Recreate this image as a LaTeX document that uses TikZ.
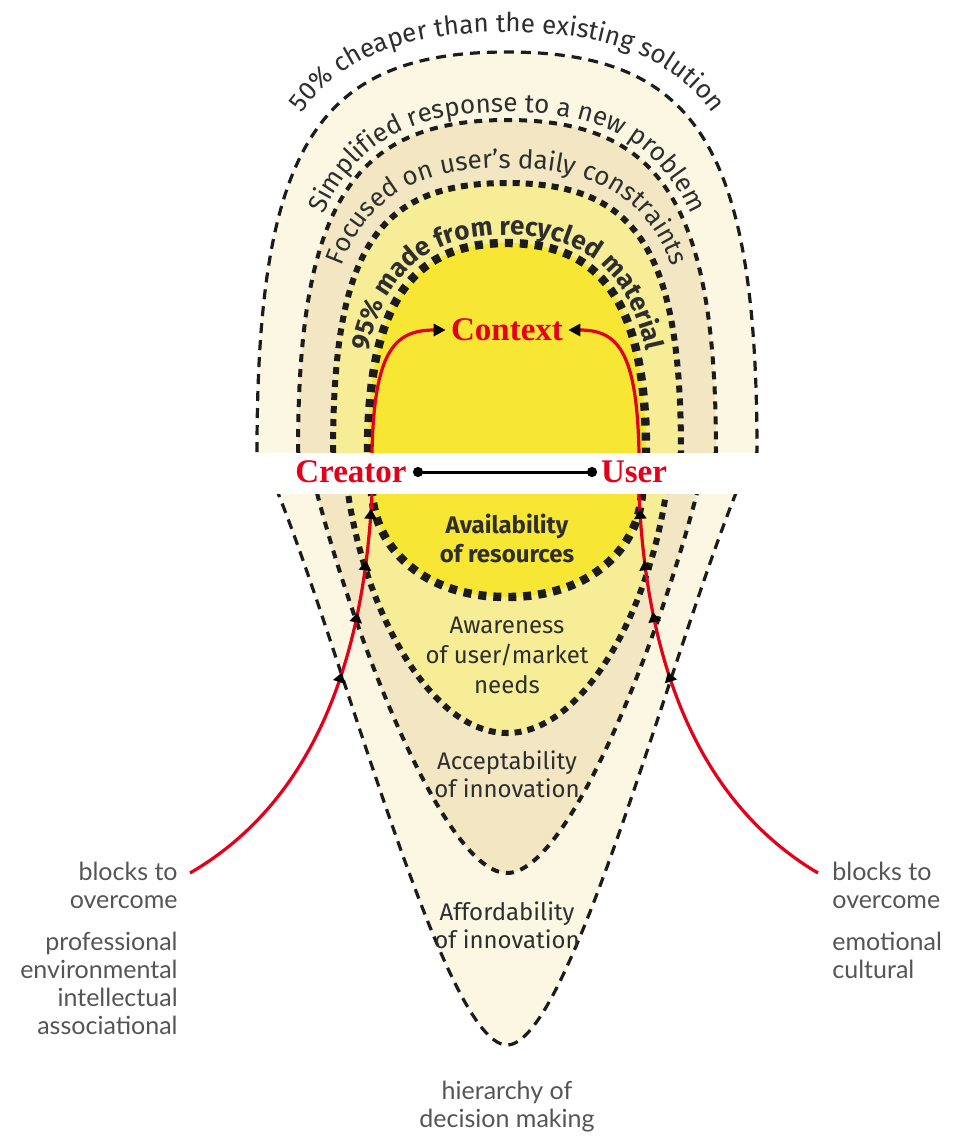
\documentclass[tikz,border=0pt]{standalone}
\usepackage{fontspec}
\usetikzlibrary{decorations.text,decorations.markings,arrows.meta}
\newfontfamily\firafont{Fira Sans}
\newfontfamily\latofont{Lato}
\newfontfamily\redfont{Liberation Serif}
\definecolor{regA}{HTML}{FBF7E2}
\definecolor{regB}{HTML}{F3E7C3}
\definecolor{regC}{HTML}{F6ED96}
\definecolor{regD}{HTML}{F7E633}
\definecolor{redc}{HTML}{E2001A}
\definecolor{txt}{HTML}{2E2E2E}
\definecolor{graytxt}{HTML}{555555}
\definecolor{dashc}{HTML}{1C1C1C}
\newcommand\arcfontA{\fontsize{13}{14}\selectfont\firafont}
\newcommand\arcfontB{\fontsize{13}{14}\selectfont\firafont}
\newcommand\arcfontC{\fontsize{13}{14}\selectfont\firafont\bfseries}
\tikzset{
  bandA/.style={fill=regA, draw=dashc, line width=1.6pt, dash pattern=on 5pt off 3.5pt},
  bandB/.style={fill=regB, draw=dashc, line width=2pt, dash pattern=on 4pt off 3.5pt},
  bandC/.style={fill=regC, draw=dashc, line width=3pt, dash pattern=on 3.5pt off 3pt},
  bandD/.style={fill=regD, draw=dashc, line width=4.2pt, dash pattern=on 4pt off 3.5pt},
  redline/.style={draw=redc, line width=1.6pt},
  ctxarrow/.style={redline, -{Triangle[length=6pt,width=6pt,color=black]}},
  upmarks/.style={postaction={decorate, decoration={markings,
      mark=at position 0.587 with {\arrow{Triangle[length=5pt,width=6pt,color=black]}},
      mark=at position 0.728 with {\arrow{Triangle[length=5pt,width=6pt,color=black]}},
      mark=at position 0.848 with {\arrow{Triangle[length=5pt,width=6pt,color=black]}},
      mark=at position 0.966 with {\arrow{Triangle[length=5pt,width=6pt,color=black]}}}}},
  redlab/.style={text=redc, font=\redfont\bfseries\fontsize{16.5}{18}\selectfont, inner sep=2.5pt},
  innerlab/.style={text=txt, align=center, anchor=base, inner sep=0pt},
  sidelab/.style={text=graytxt, font=\latofont\fontsize{12.5}{14}\selectfont, inner sep=0pt},
  conn/.style={draw=black, line width=1.5pt, {Circle[length=5pt]}-{Circle[length=5pt]}},
  arctext/.style={decorate, decoration={text along path, text align=center, text color=txt, text={#1}}}
}
\begin{document}
\begin{tikzpicture}[x=0.5pt, y=-0.5pt]
\useasboundingbox (0,0) rectangle (960,1137);
\fill[white] (0,0) rectangle (960,1137);

% nested bands (outer to inner)
\path[bandA] (257,452) .. controls (257,148) and (317,52) .. (507,52) .. controls (697,52) and (757,148) .. (757,452)
  -- (736,493) .. controls (669,660) and (569,1045) .. (507,1045) .. controls (445,1045) and (345,660) .. (278,493) -- cycle;
\path[bandB] (298,452) .. controls (298,206) and (352,120) .. (507,120) .. controls (662,120) and (716,206) .. (716,452)
  -- (697,493) .. controls (659,640) and (569,873) .. (507,873) .. controls (445,873) and (355,640) .. (317,493) -- cycle;
\path[bandC] (333,452) .. controls (333,250) and (377,183) .. (507,183) .. controls (637,183) and (681,250) .. (681,452)
  -- (666,493) .. controls (649,610) and (584,733) .. (507,733) .. controls (430,733) and (365,610) .. (348,493) -- cycle;
\path[bandD] (368,452) .. controls (368,306) and (410,243) .. (507,243) .. controls (604,243) and (646,306) .. (646,452)
  -- (642,493) .. controls (639,545) and (594,597) .. (507,597) .. controls (420,597) and (375,545) .. (372,493) -- cycle;

% coordinates for the red connectors
\coordinate (ctl) at (372,453);
\coordinate (ctr) at (639,453);
\coordinate (crl) at (372,494);
\coordinate (crr) at (639,494);
\coordinate (bkl) at (190,873);
\coordinate (bkr) at (818,873);

% Context label
\node[redlab] (ctx) at (507,330) {Context};

% red connectors, lower part with arrowheads
\draw[redline, upmarks] (bkl) .. controls (290,815) and (362,700) .. (crl);
\draw[redline, upmarks] (bkr) .. controls (720,815) and (648,700) .. (crr);

% red connectors, upper part to Context
\draw[ctxarrow] (ctl) .. controls (374,350) and (395,330) .. (ctx.west);
\draw[ctxarrow] (ctr) .. controls (637,350) and (617,330) .. (ctx.east);

% white strip
\fill[white] (0,453) rectangle (960,494);

% Creator -- User
\node[redlab] (creator) at (351,472) {Creator};
\node[redlab] (user) at (634,472) {User};
\coordinate (dotl) at (413,472);
\coordinate (dotr) at (597,472);
\draw[conn] (dotl) -- (dotr);

% texts along the arches
\path[arctext={|\arcfontA|50{\%} cheaper than the existing solution}]
  (237,452) .. controls (237,133) and (302,32) .. (507,32) .. controls (712,32) and (777,133) .. (777,452);
\path[arctext={|\arcfontB|Simplified response to a new problem}]
  (289,452) .. controls (289,200) and (346,112) .. (507,112) .. controls (668,112) and (725,200) .. (725,452);
\path[arctext={|\arcfontB|Focused on user’s daily constraints}]
  (319,452) .. controls (319,239) and (366,168) .. (507,168) .. controls (648,168) and (695,239) .. (695,452);
\path[arctext={|\arcfontC|95{\%} made from recycled material}]
  (359,452) .. controls (359,300) and (403,235) .. (507,235) .. controls (611,235) and (655,300) .. (655,452);

% inner texts (anchored at the baseline of their last line)
\node[innerlab, font=\firafont\bfseries\fontsize{12}{14.5}\selectfont] (avail) at (507,562) {Availability\\of resources};
\node[innerlab, font=\firafont\fontsize{12}{15}\selectfont] (aware) at (507,693) {Awareness\\of user/market\\needs};
\node[innerlab, font=\firafont\fontsize{12}{14}\selectfont] (accept) at (507,797) {Acceptability\\of innovation};
\node[innerlab, font=\firafont\fontsize{12}{14}\selectfont] (afford) at (507,948) {Affordability\\of innovation};

% side labels
\node[sidelab, anchor=base east, align=right] (blkltxt) at (178,908) {blocks to\\overcome};
\node[sidelab, anchor=base east, align=right] (profl) at (178,1034) {professional\\environmental\\intellectual\\associational};
\node[sidelab, anchor=base west, align=left] (blkrtxt) at (832,908) {blocks to\\overcome};
\node[sidelab, anchor=base west, align=left] (emor) at (832,978) {emotional\\cultural};
\node[sidelab, anchor=base, align=center] (hier) at (507,1127) {hierarchy of\\decision making};
\end{tikzpicture}
\end{document}
